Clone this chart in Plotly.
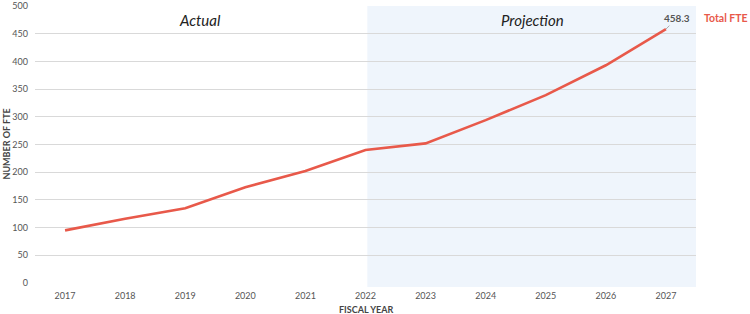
import plotly.graph_objects as go

years = ["2017", "2018", "2019", "2020", "2021", "2022", "2023", "2024", "2025", "2026", "2027"]
total_fte = [95, 116, 135, 173, 202, 240, 252, 294, 339, 393, 458.3]
y_ticks = [0, 50, 100, 150, 200, 250, 300, 350, 400, 450, 500]

FONT = "Lato"
RED = "#E8594A"

fig = go.Figure()
fig.add_trace(go.Scatter(
    x=list(range(len(years))), y=total_fte, mode="lines",
    line=dict(color=RED, width=2.6), showlegend=False,
    text=years, hovertemplate="%{text}: %{y}<extra></extra>",
))

# projection shading
fig.add_shape(type="rect", xref="x", yref="paper", x0=5.03, x1=10.5, y0=-0.014, y1=1,
              fillcolor="#EFF5FC", line=dict(width=0), layer="below")

fig.add_annotation(x=0.25, y=0.95, xref="paper", yref="paper", text="<i>Actual</i>",
                   showarrow=False, xanchor="center", yanchor="middle",
                   font=dict(family=FONT, size=15, color="#222"))
fig.add_annotation(x=0.752, y=0.95, xref="paper", yref="paper", text="<i>Projection</i>",
                   showarrow=False, xanchor="center", yanchor="middle",
                   font=dict(family=FONT, size=15, color="#222"))
fig.add_annotation(x=len(years) - 1, y=total_fte[-1], xref="x", yref="y",
                   text="<b>%.1f</b>" % total_fte[-1],
                   showarrow=True, arrowhead=0, arrowwidth=0.8, arrowcolor="#999",
                   ax=11, ay=-11, font=dict(family=FONT, size=10, color="#555"))
fig.add_annotation(x=1.0, y=0.955, xref="paper", yref="paper", text="<b>Total FTE</b>",
                   showarrow=False, xanchor="left", yanchor="middle", xshift=6,
                   font=dict(family=FONT, size=10.5, color=RED))
fig.add_annotation(x=0, y=0.5, xref="paper", yref="paper", text="<b>NUMBER OF FTE</b>",
                   showarrow=False, textangle=-90, xanchor="center", yanchor="middle",
                   xshift=-29, font=dict(family=FONT, size=9, color="#444"))
fig.add_annotation(x=0.5, y=0, xref="paper", yref="paper", text="<b>FISCAL YEAR</b>",
                   showarrow=False, xanchor="center", yanchor="middle", yshift=-26,
                   font=dict(family=FONT, size=9, color="#444"))

fig.update_layout(
    width=750, height=314,
    margin=dict(l=35, r=54, t=6, b=31, autoexpand=False),
    plot_bgcolor="white", paper_bgcolor="white",
    font=dict(family=FONT, color="#555"),
    xaxis=dict(range=[-0.5, 10.5], tickvals=list(range(len(years))), ticktext=years,
               showgrid=False, showline=False, zeroline=False, automargin=False,
               ticks="", ticklabelstandoff=6, tickfont=dict(size=9, color="#555")),
    yaxis=dict(range=[0, 500], tickvals=y_ticks, showgrid=True, gridcolor="#D9D9D9",
               gridwidth=1, zeroline=False, showline=False, ticks="", automargin=False,
               ticklabelstandoff=6, ticklabeloverflow="allow",
               tickfont=dict(size=9, color="#555")),
)

fig.write_html("out.html", config={"displayModeBar": False},
               post_script="document.body.style.margin='0px';document.body.style.overflow='hidden';")
